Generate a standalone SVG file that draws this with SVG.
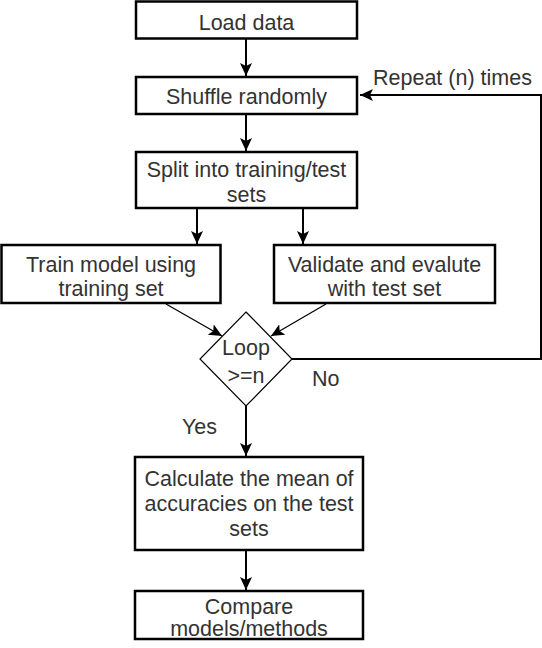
<svg xmlns="http://www.w3.org/2000/svg" width="542" height="648" viewBox="0 0 542 648">
<style>
.box{fill:#fff;stroke:#000;stroke-width:2.5}
.dia{fill:#fff;stroke:#000;stroke-width:1.2}
.t{font-family:"Liberation Sans",Arial,sans-serif;font-size:21.5px;fill:#333;text-anchor:middle}
.l{font-family:"Liberation Sans",Arial,sans-serif;font-size:21.5px;fill:#333}
.c{fill:none;stroke:#000;stroke-width:2}
.c2{fill:none;stroke:#000;stroke-width:1.3}
</style>
<defs>
<marker id="ah" markerUnits="userSpaceOnUse" markerWidth="14" markerHeight="12" refX="13" refY="6" orient="auto" viewBox="0 0 14 12">
<path d="M0,0 L13,6 L0,12 L3,6 z" fill="#000"/>
</marker>
</defs>
<g id="connectors">
<path class="c" d="M246,38 V76" marker-end="url(#ah)"/>
<path class="c" d="M246,114 V151" marker-end="url(#ah)"/>
<path class="c" d="M197,208 V244" marker-end="url(#ah)"/>
<path class="c" d="M303,208 V244" marker-end="url(#ah)"/>
<path class="c2" d="M166,304 L222,336" marker-end="url(#ah)"/>
<path class="c2" d="M326,304 L271,336" marker-end="url(#ah)"/>
<path class="c" d="M292,359 H541 V95 H360" marker-end="url(#ah)"/>
<path class="c" d="M246,406 V456" marker-end="url(#ah)"/>
<path class="c" d="M246,550 V590" marker-end="url(#ah)"/>
</g>
<g id="load"><rect class="box" x="136" y="1.5" width="221" height="37"/><text class="t" x="246.5" y="30">Load data</text></g>
<g id="shuffle"><rect class="box" x="136" y="77" width="221" height="37"/><text class="t" x="246.5" y="104">Shuffle randomly</text></g>
<g id="split"><rect class="box" x="136" y="152" width="221" height="56"/><text class="t" x="246.5" y="177">Split into training/test</text><text class="t" x="246.5" y="202">sets</text></g>
<g id="train"><rect class="box" x="1.5" y="245" width="219" height="58"/><text class="t" x="111" y="271.5">Train model using</text><text class="t" x="111" y="296">training set</text></g>
<g id="validate"><rect class="box" x="274" y="245" width="221" height="58"/><text class="t" x="384.5" y="271.5">Validate and evalute</text><text class="t" x="384.5" y="296">with test set</text></g>
<g id="loop"><path class="dia" d="M246,312 L292,359 L246,406 L200,359 Z"/><text class="t" x="246" y="355">Loop</text><text class="t" x="246" y="383">&gt;=n</text></g>
<g id="calc"><rect class="box" x="135" y="457" width="228" height="93"/><text class="t" x="249" y="486">Calculate the mean of</text><text class="t" x="249" y="511">accuracies on the test</text><text class="t" x="249" y="536">sets</text></g>
<g id="compare"><rect class="box" x="135" y="591" width="228" height="48"/><text class="t" x="249" y="614">Compare</text><text class="t" x="249" y="636">models/methods</text></g>
<g id="labels">
<text class="l" x="373" y="85">Repeat (n) times</text>
<text class="l" x="312" y="386">No</text>
<text class="l" x="182" y="434">Yes</text>
</g>
</svg>
